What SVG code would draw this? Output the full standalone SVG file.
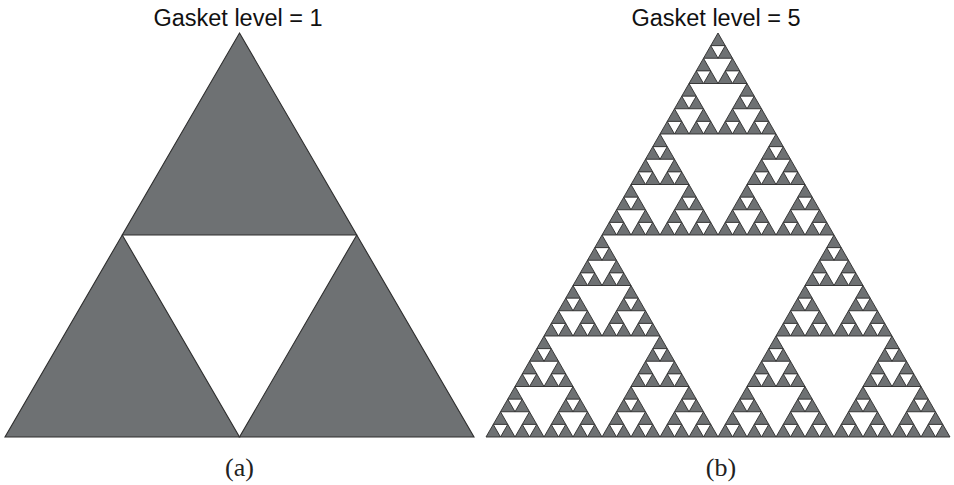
<svg xmlns="http://www.w3.org/2000/svg" xmlns:xlink="http://www.w3.org/1999/xlink" width="954" height="485" viewBox="0 0 954 485">
<style>
.title{font-family:"Liberation Sans",Arial,sans-serif;font-size:23.5px;fill:#111}
.cap{font-family:"Liberation Serif","Times New Roman",serif;font-size:26px;fill:#222}
.tri{fill:#6e7173;stroke:#2e2e2e;stroke-width:1.1;stroke-linejoin:miter}
.ftri{fill:#6e7173;stroke:#2a2a2a;stroke-width:0.9}
</style>
<defs>
<polygon id="L0" class="ftri" points="0.5,0 1,1 0,1" vector-effect="non-scaling-stroke"/>
<g id="L1"><use xlink:href="#L0" transform="translate(0.25,0) scale(0.5)"/><use xlink:href="#L0" transform="translate(0,0.5) scale(0.5)"/><use xlink:href="#L0" transform="translate(0.5,0.5) scale(0.5)"/></g>
<g id="L2"><use xlink:href="#L1" transform="translate(0.25,0) scale(0.5)"/><use xlink:href="#L1" transform="translate(0,0.5) scale(0.5)"/><use xlink:href="#L1" transform="translate(0.5,0.5) scale(0.5)"/></g>
<g id="L3"><use xlink:href="#L2" transform="translate(0.25,0) scale(0.5)"/><use xlink:href="#L2" transform="translate(0,0.5) scale(0.5)"/><use xlink:href="#L2" transform="translate(0.5,0.5) scale(0.5)"/></g>
<g id="L4"><use xlink:href="#L3" transform="translate(0.25,0) scale(0.5)"/><use xlink:href="#L3" transform="translate(0,0.5) scale(0.5)"/><use xlink:href="#L3" transform="translate(0.5,0.5) scale(0.5)"/></g>
<g id="L5"><use xlink:href="#L4" transform="translate(0.25,0) scale(0.5)"/><use xlink:href="#L4" transform="translate(0,0.5) scale(0.5)"/><use xlink:href="#L4" transform="translate(0.5,0.5) scale(0.5)"/></g>
</defs>
<rect width="954" height="485" fill="#fff"/>
<g id="panel-a">
<text class="title" x="238" y="26" text-anchor="middle">Gasket level = 1</text>
<polygon class="tri" points="239.5,33 356.75,235 122.25,235"/>
<polygon class="tri" points="122.25,235 239.5,437 5,437"/>
<polygon class="tri" points="356.75,235 474,437 239.5,437"/>
<text class="cap" x="239.5" y="476" text-anchor="middle">(a)</text>
</g>
<g id="panel-b">
<text class="title" x="716" y="26" text-anchor="middle">Gasket level = 5</text>
<use xlink:href="#L5" transform="translate(486,33) scale(464,404)"/>
<text class="cap" x="721" y="476" text-anchor="middle">(b)</text>
</g>
</svg>
